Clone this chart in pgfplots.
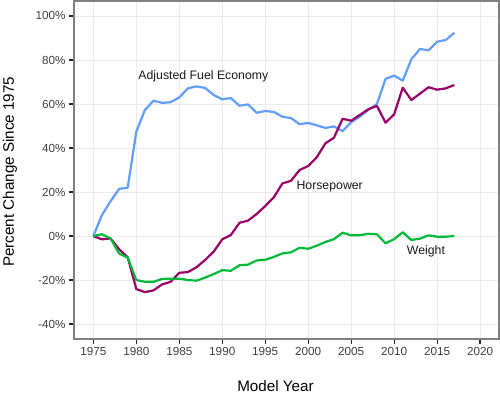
\documentclass[border=0pt]{standalone}
\usepackage{fontspec}
\setmainfont{Liberation Sans}
\usepackage{pgfplots}
\pgfplotsset{compat=1.18}
\definecolor{fe}{HTML}{619CFF}
\definecolor{hp}{HTML}{990066}
\definecolor{wt}{HTML}{00BA38}
\definecolor{gridc}{HTML}{EBEBEB}
\definecolor{framec}{HTML}{808080}
\begin{document}
\begin{tikzpicture}
\path[use as bounding box] (-74pt,-58pt) rectangle (426pt,339pt);
\begin{axis}[
  at={(0,0)}, anchor=south west,
  scale only axis, width=425pt, height=338pt,
  xmin=1972.75, xmax=2022.2, ymin=-46.8, ymax=106.8,
  xtick={1975,1980,...,2020}, ytick={-40,-20,...,100},
  /pgf/number format/assume math mode=true,
  xticklabel style={/pgf/number format/1000 sep={}},
  yticklabel={\pgfmathprintnumber{\tick}\%},
  grid=major, major grid style={gridc, line width=0.8pt},
  axis line style={framec, line width=1.3pt},
  tick align=outside, xtick pos=bottom, ytick pos=left,
  major tick length=5pt, tick style={black!85, line width=1.2pt},
  ticklabel style={font=\fontsize{11.7}{13}\selectfont, text=black!75},
  xlabel={Model Year}, ylabel={Percent Change Since 1975},
  label style={font=\fontsize{15.2}{17}\selectfont, text=black},
  xlabel style={at={(axis description cs:0.474,-0.1391)}, anchor=center},
  ylabel style={at={(axis description cs:-0.1506,0.495)}, anchor=center},
  every axis plot/.append style={line width=2.2pt, line join=round, no markers},
]
\addplot[fe] coordinates {
(1975,0) (1976,9.5) (1977,15.8) (1978,21.4) (1979,22) (1980,47.4) (1981,57.3)
(1982,61.5) (1983,60.5) (1984,60.8) (1985,63) (1986,67.1) (1987,68) (1988,67.3)
(1989,64.1) (1990,62.1) (1991,62.7) (1992,59.2) (1993,59.8) (1994,56) (1995,56.8)
(1996,56.4) (1997,54.2) (1998,53.6) (1999,50.8) (2000,51.4) (2001,50.3) (2002,49.1)
(2003,49.8) (2004,47.7) (2005,51.7) (2006,54.2) (2007,57.3) (2008,60) (2009,71.4)
(2010,72.9) (2011,70.6) (2012,80.3) (2013,85) (2014,84.4) (2015,88.3) (2016,89.1)
(2017,92.3)};
\addplot[hp] coordinates {
(1975,0) (1976,-1.5) (1977,-1.1) (1978,-6) (1979,-9.7) (1980,-24.1) (1981,-25.5)
(1982,-24.7) (1983,-22) (1984,-20.8) (1985,-16.7) (1986,-16.4) (1987,-14.2) (1988,-10.9)
(1989,-7.1) (1990,-1.5) (1991,0.45) (1992,6) (1993,7) (1994,10) (1995,13.6)
(1996,17.6) (1997,23.9) (1998,25.1) (1999,30) (2000,31.8) (2001,35.8) (2002,42.1)
(2003,44.7) (2004,53.3) (2005,52.4) (2006,55) (2007,57.6) (2008,59.1) (2009,51.5)
(2010,55.3) (2011,67.4) (2012,61.8) (2013,64.7) (2014,67.6) (2015,66.5) (2016,67.1)
(2017,68.6)};
\addplot[wt] coordinates {
(1975,0) (1976,0.8) (1977,-1.1) (1978,-8) (1979,-9.8) (1980,-20) (1981,-20.8)
(1982,-20.8) (1983,-19.5) (1984,-19.4) (1985,-19.4) (1986,-20) (1987,-20.3) (1988,-18.9)
(1989,-17.3) (1990,-15.5) (1991,-15.8) (1992,-13.3) (1993,-13) (1994,-11.1) (1995,-10.8)
(1996,-9.5) (1997,-7.9) (1998,-7.4) (1999,-5.3) (2000,-5.8) (2001,-4.4) (2002,-2.7)
(2003,-1.4) (2004,1.5) (2005,0.3) (2006,0.4) (2007,1) (2008,0.8) (2009,-3.3)
(2010,-1.4) (2011,1.7) (2012,-1.8) (2013,-1.2) (2014,0.3) (2015,-0.3) (2016,-0.3)
(2017,0)};
\node[font=\fontsize{12.3}{14}\selectfont, text=black!90] at (axis cs:1987.8,72.7) {Adjusted Fuel Economy};
\node[font=\fontsize{12.3}{14}\selectfont, text=black!90] at (axis cs:2002.5,22.3) {Horsepower};
\node[font=\fontsize{12.3}{14}\selectfont, text=black!90] at (axis cs:2013.7,-6.8) {Weight};
\end{axis}
\end{tikzpicture}
\end{document}
